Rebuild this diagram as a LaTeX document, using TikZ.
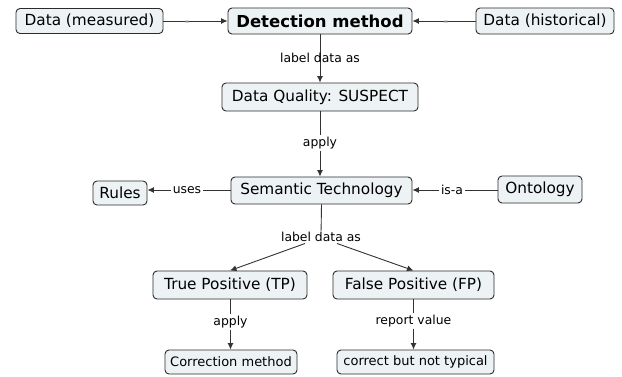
\documentclass[tikz,border=0pt]{standalone}
\usepackage{fontspec}
\setmainfont{DejaVu Sans}
\usetikzlibrary{arrows.meta}
\definecolor{boxfill}{HTML}{EDF3F5}
\definecolor{boxline}{HTML}{2B2B2B}
\definecolor{linkcol}{HTML}{333333}
\tikzset{
  concept/.style={draw=boxline, fill=boxfill, line width=0.9pt, rounded corners=4pt,
    inner xsep=3pt, inner ysep=0pt, font=\fontsize{15.3}{16}\selectfont, text=black},
  smallconcept/.style={concept, font=\fontsize{13}{14}\selectfont},
  linklabel/.style={fill=white, inner sep=1.5pt, font=\fontsize{12.4}{13}\selectfont, text=black},
  conn/.style={draw=linkcol, line width=0.9pt},
  arr/.style={conn, -{Latex[length=6.5pt,width=6pt]}},
  tick/.style={inner sep=0pt, text=gray, font=\bfseries\fontsize{12}{12}\selectfont, yshift=-2.2pt},
}
\begin{document}
\begin{tikzpicture}[x=1pt,y=1pt]
\useasboundingbox (0,0) rectangle (622,-376);
\fill[white] (0,0) rectangle (622,-376);

% concepts
\node[concept, minimum width=147pt, minimum height=25pt] (meas) at (89.5,-21) {Data (measured)};
\node[concept, minimum width=184pt, minimum height=26pt, font=\bfseries\fontsize{16.5}{17}\selectfont] (det) at (320,-21) {Detection method};
\node[concept, minimum width=138pt, minimum height=26pt] (hist) at (545,-21) {Data (historical)};
\node[concept, minimum width=196pt, minimum height=28pt] (dq) at (320,-97) {Data Quality: SUSPECT};
\node[concept, minimum width=181pt, minimum height=27pt] (sem) at (321.5,-190.5) {Semantic Technology};
\node[concept, minimum width=54pt, minimum height=24pt] (rules) at (120,-193) {Rules};
\node[concept, minimum width=84pt, minimum height=27pt] (onto) at (540,-189.5) {Ontology};
\node[concept, minimum width=154pt, minimum height=28pt] (tp) at (230,-285) {True Positive (TP)};
\node[concept, minimum width=161pt, minimum height=28pt] (fp) at (413.5,-285) {False Positive (FP)};
\node[smallconcept, minimum width=132pt, minimum height=24pt] (corr) at (231,-362) {Correction method};
\node[smallconcept, minimum width=157pt, minimum height=24pt] (typ) at (415.5,-362) {correct but not typical};

% inputs to the detection method
\draw[arr] (meas) -- node[tick, pos=0.37] {-} (det);
\draw[arr] (hist) -- node[tick, pos=0.47] {-} (det);

% detection method -> data quality (label sits over the line)
\draw[arr] (det) -- (dq);
\node[font=\fontsize{12.4}{13}\selectfont, inner sep=0pt] (lab1) at (320,-58) {label data as};

% data quality -> semantic technology
\node[linklabel] (lab2) at (320,-143) {apply};
\draw[conn] (dq) -- (lab2);
\draw[arr] (lab2) -- (dq.south |- sem.north);

% semantic technology -> rules / ontology -> semantic technology
\node[linklabel] (lab3) at (187,-190) {uses};
\draw[conn] (sem.west |- lab3) -- (lab3);
\draw[arr] (lab3) -- (rules.east |- lab3);
\node[linklabel] (lab4) at (452,-190) {is-a};
\draw[conn] (onto.west |- lab4) -- (lab4);
\draw[arr] (lab4) -- (sem.east |- lab4);

% semantic technology -> TP / FP
\node[linklabel] (lab5) at (321,-237) {label data as};
\draw[conn] (sem.south) -- (lab5);
\coordinate (l5a) at ([xshift=-16pt]lab5.south);
\coordinate (l5b) at ([xshift=16pt]lab5.south);
\draw[arr] (l5a) -- (tp.north);
\draw[arr] (l5b) -- (fp.north);

% TP -> correction method
\node[linklabel] (lab6) at (230.5,-322) {apply};
\draw[conn] (tp.south -| lab6) -- (lab6);
\draw[arr] (lab6) -- (lab6 |- corr.north);

% FP -> reported value
\node[linklabel] (lab7) at (413.5,-321) {report value};
\draw[conn] (fp.south -| lab7) -- (lab7);
\draw[arr] (lab7) -- (lab7 |- typ.north);
\end{tikzpicture}
\end{document}
